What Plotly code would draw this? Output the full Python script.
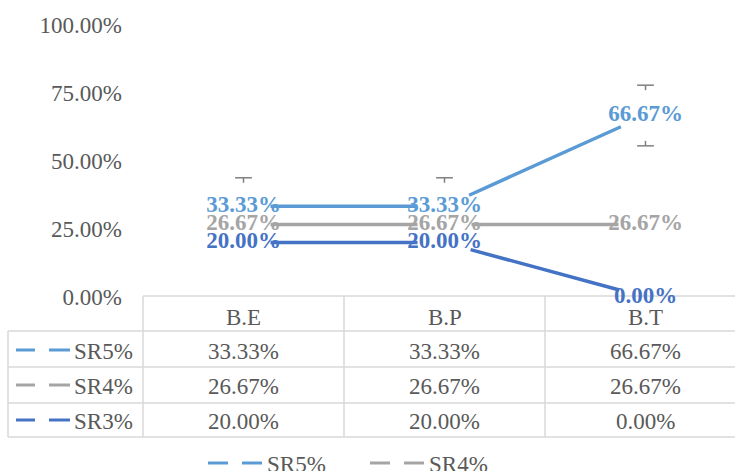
import math
import plotly.graph_objects as go

# ---------------- data ----------------
categories = ["B.E", "B.P", "B.T"]
series_names = ["SR5%", "SR4%", "SR3%"]
sr5 = [0.3333, 0.3333, 0.6667]
sr4 = [0.2667, 0.2667, 0.2667]
sr3 = [0.2000, 0.2000, 0.0000]
sr5_err_plus = [0.105, 0.105, 0.112]
sr5_err_minus = [0.0, 0.0, 0.111]
y_tick_values = [0, 0.25, 0.5, 0.75, 1.0]

series_values = {"SR5%": sr5, "SR4%": sr4, "SR3%": sr3}
colors = {"SR5%": "#5B9BD5", "SR4%": "#A5A5A5", "SR3%": "#4472C4"}

# ---------------- geometry ----------------
W, H = 735, 471
ML, MT = 143, 25
PLOT_W, PLOT_H = W - ML, 272
MB = H - MT - PLOT_H
COL_W = 201.0
FONT = 'Liberation Serif, "Times New Roman", Times, serif'
TXT = "#595959"
GRID = "#D9D9D9"
ERR = "#7F7F7F"
FS = 23


def px_x(px):
    return (px - ML) / PLOT_W


def px_y(py):
    return (MT + PLOT_H - py) / PLOT_H


fig = go.Figure()

# ---- series lines (segments with gaps near points) ----
GAP = 27
for name in series_names:
    vals = series_values[name]
    for i in range(len(vals) - 1):
        dy = (vals[i + 1] - vals[i]) * PLOT_H
        seg = math.hypot(COL_W, dy)
        dash = f"0px,{GAP}px,{seg - 2 * GAP:.1f}px,{seg + 200:.0f}px"
        fig.add_trace(go.Scatter(
            x=[categories[i], categories[i + 1]], y=[vals[i], vals[i + 1]],
            mode="lines", line=dict(color=colors[name], width=3.5, dash=dash),
            showlegend=False, hoverinfo="skip", cliponaxis=False))

# ---- error bars on SR5 (caps with short stems) ----
cap_x, cap_y = [], []
for i, c in enumerate(categories):
    v = sr5[i]
    for sign, e in ((1, sr5_err_plus[i]), (-1, sr5_err_minus[i])):
        if e <= 0:
            continue
        end = v + sign * e
        cap_x.append(c)
        cap_y.append(end)
        fig.add_trace(go.Scatter(
            x=[c, c], y=[end, v], mode="lines",
            line=dict(color=ERR, width=1.5, dash="5px,3000px"),
            showlegend=False, hoverinfo="skip"))
fig.add_trace(go.Scatter(
    x=cap_x, y=cap_y, mode="markers",
    marker=dict(symbol="line-ew", size=12, line=dict(color=ERR, width=1.5)),
    showlegend=False, hoverinfo="skip"))

# ---- data labels ----
for name in series_names:
    vals = series_values[name]
    fig.add_trace(go.Scatter(
        x=categories, y=vals, mode="text",
        text=[f"{v:.2%}" for v in vals], textposition="middle center",
        textfont=dict(family=FONT, size=FS, color=colors[name], weight="bold"),
        showlegend=False, hoverinfo="skip", cliponaxis=False))

# ---------------- data table ----------------
shapes = []
annotations = []
TABLE_TOP = 296
ROW_LINES = [331, 367, 403, 437]
LEFT = 8
COL_LINES = [ML + k * COL_W for k in range(len(categories))]


def hline(y, x0, x1):
    shapes.append(dict(type="line", xref="paper", yref="paper",
                       x0=px_x(x0), x1=px_x(x1), y0=px_y(y), y1=px_y(y),
                       line=dict(color=GRID, width=1.5), layer="below"))


def vline(x, y0, y1):
    shapes.append(dict(type="line", xref="paper", yref="paper",
                       x0=px_x(x), x1=px_x(x), y0=px_y(y0), y1=px_y(y1),
                       line=dict(color=GRID, width=1.5), layer="below"))


hline(TABLE_TOP, ML, W + 20)
for y in ROW_LINES:
    hline(y, LEFT, W + 20)
vline(LEFT, ROW_LINES[0], ROW_LINES[-1])
for x in COL_LINES:
    vline(x, TABLE_TOP, ROW_LINES[-1])

header_y = 317
row_text_y = [351, 386, 421]

for i, c in enumerate(categories):
    annotations.append(dict(x=i, xref="x", y=px_y(header_y), yref="paper",
                            text=c, showarrow=False, xanchor="center", yanchor="middle",
                            font=dict(family=FONT, size=FS, color=TXT)))

for r, name in enumerate(series_names):
    ty = row_text_y[r]
    # legend key (dashed) in the table
    for (a, b) in ((16, 35), (49, 70)):
        shapes.append(dict(type="line", xref="paper", yref="paper",
                           x0=px_x(a), x1=px_x(b), y0=px_y(ty - 1), y1=px_y(ty - 1),
                           line=dict(color=colors[name], width=3)))
    annotations.append(dict(x=px_x(72), xref="paper", y=px_y(ty), yref="paper",
                            text=name, showarrow=False, xanchor="left", yanchor="middle",
                            font=dict(family=FONT, size=FS, color=TXT)))
    for i, v in enumerate(series_values[name]):
        annotations.append(dict(x=i, xref="x", y=px_y(ty), yref="paper",
                                text=f"{v:.2%}", showarrow=False,
                                xanchor="center", yanchor="middle",
                                font=dict(family=FONT, size=FS, color=TXT)))

# ---------------- bottom legend ----------------
legend_y = 464
legend_items = [("SR5%", 208), ("SR4%", 370)]
for name, x0 in legend_items:
    for (a, b) in ((0, 20), (34, 54)):
        shapes.append(dict(type="line", xref="paper", yref="paper",
                           x0=px_x(x0 + a), x1=px_x(x0 + b),
                           y0=px_y(legend_y - 1), y1=px_y(legend_y - 1),
                           line=dict(color=colors[name], width=3)))
    annotations.append(dict(x=px_x(x0 + 57), xref="paper", y=px_y(legend_y), yref="paper",
                            text=name, showarrow=False, xanchor="left", yanchor="middle",
                            font=dict(family=FONT, size=FS, color=TXT)))

fig.update_layout(
    width=W, height=H,
    margin=dict(l=ML, r=0, t=MT, b=MB, pad=0),
    paper_bgcolor="white", plot_bgcolor="white",
    showlegend=False,
    shapes=shapes, annotations=annotations,
    xaxis=dict(type="category", categoryorder="array", categoryarray=categories,
               range=[-0.5, -0.5 + PLOT_W / COL_W], showticklabels=False,
               showgrid=False, zeroline=False, showline=False, ticks="", fixedrange=True),
    yaxis=dict(range=[0, 1], tickvals=y_tick_values, tickformat=".2%",
               tickfont=dict(family=FONT, size=FS, color=TXT),
               showgrid=False, zeroline=False, showline=False, ticks="",
               ticklabelstandoff=20, fixedrange=True),
)

fig.write_html("out.html", config={"displayModeBar": False},
               post_script="document.body.style.margin='0px';")
